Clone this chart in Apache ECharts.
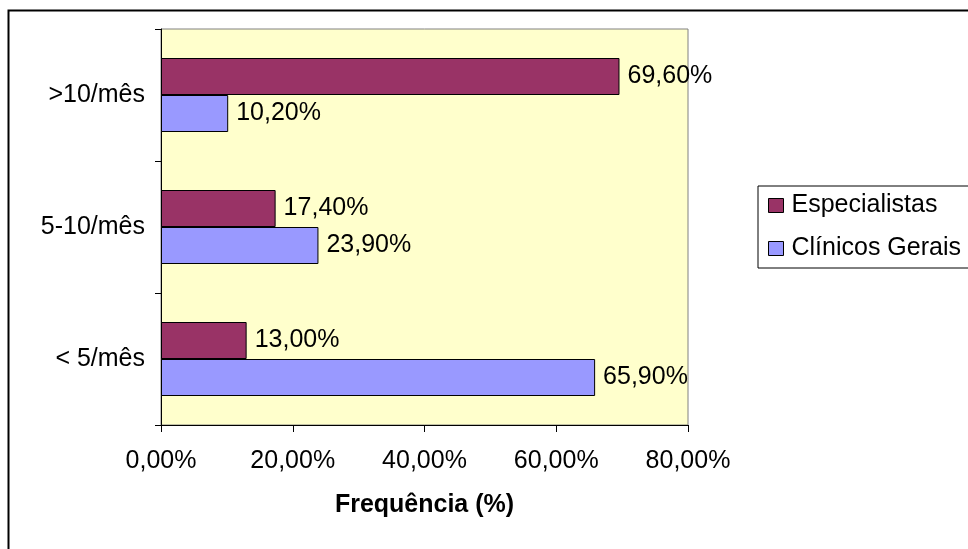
<!DOCTYPE html>
<html>
<head>
<meta charset="utf-8">
<script src="https://cdn.jsdelivr.net/npm/echarts@6.0.0/dist/echarts.min.js"></script>
<style>
  html, body { margin: 0; padding: 0; background: #fff; }
  #chart { width: 968px; height: 549px; }
</style>
</head>
<body>
<div id="chart"></div>
<script>
// dados
var categorias = ['< 5/mês', '5-10/mês', '>10/mês'];
var especialistas = [13.0, 17.4, 69.6];
var clinicosGerais = [65.9, 23.9, 10.2];
var ticksX = [0, 20, 40, 60, 80];

var FONT = 'Liberation Sans, Arial, sans-serif';
var FS = 25;

function pct(v) {
    return v.toFixed(2).replace('.', ',') + '%';
}

var chart = echarts.init(document.getElementById('chart'));

chart.setOption({
    animation: false,
    textStyle: { fontFamily: FONT },
    graphic: [{
        type: 'rect',
        shape: { x: 8.5, y: 10.5, width: 980, height: 560 },
        style: { fill: 'none', stroke: '#000', lineWidth: 2 },
        silent: true,
    }],
    grid: {
        left: 161, top: 29, width: 527, height: 396,
        show: true,
        backgroundColor: '#FFFFCC',
        borderColor: '#808080',
        borderWidth: 1,
    },
    legend: {
        orient: 'vertical',
        left: 758, top: 186,
        data: ['Especialistas', 'Clínicos Gerais'],
        itemWidth: 15, itemHeight: 14,
        itemGap: 18,
        padding: [7, 40, 7, 10],
        backgroundColor: '#fff',
        borderColor: '#000',
        borderWidth: 1,
        icon: 'rect',
        itemStyle: { borderColor: '#000', borderWidth: 1 },
        textStyle: { fontSize: FS, color: '#000', fontFamily: FONT, padding: [0, 0, 0, 3] },
    },
    xAxis: {
        type: 'value',
        min: 0, max: 80, interval: 20,
        name: 'Frequência (%)',
        nameLocation: 'middle',
        nameGap: 68,
        nameTextStyle: { fontSize: FS, fontWeight: 'bold', color: '#000', fontFamily: FONT },
        axisLine: { show: true, lineStyle: { color: '#000', width: 1 } },
        axisTick: { show: true, length: 7, lineStyle: { color: '#000' } },
        axisLabel: {
            fontSize: FS, color: '#000', margin: 24,
            formatter: function (v) { return ticksX.indexOf(v) >= 0 ? pct(v) : ''; },
        },
        splitLine: { show: false },
    },
    yAxis: {
        type: 'category',
        data: categorias,
        axisLine: { show: true, lineStyle: { color: '#000', width: 1 } },
        axisTick: { show: true, length: 6, lineStyle: { color: '#000' } },
        axisLabel: { fontSize: FS, color: '#000', margin: 16 },
    },
    series: [
        {
            name: 'Especialistas',
            type: 'bar',
            data: especialistas,
            barWidth: 37,
            barGap: '0%',
            itemStyle: { color: '#993366', borderColor: '#000', borderWidth: 1 },
            label: {
                show: true, position: 'right', distance: 8,
                fontSize: FS, color: '#000', fontFamily: FONT,
                formatter: function (p) { return pct(p.value); },
            },
        },
        {
            name: 'Clínicos Gerais',
            type: 'bar',
            data: clinicosGerais,
            barWidth: 37,
            barGap: '0%',
            itemStyle: { color: '#9999FF', borderColor: '#000', borderWidth: 1 },
            label: {
                show: true, position: 'right', distance: 8,
                fontSize: FS, color: '#000', fontFamily: FONT,
                formatter: function (p) { return pct(p.value); },
            },
        },
    ],
});

window.addEventListener('resize', function () { chart.resize(); });
</script>
</body>
</html>
